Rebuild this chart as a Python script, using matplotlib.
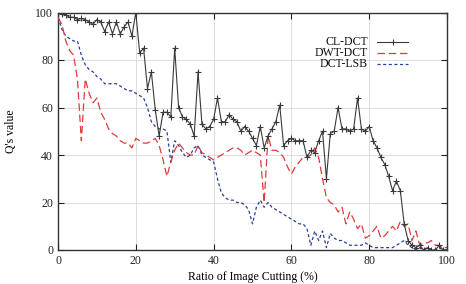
import matplotlib
matplotlib.use("Agg")
import matplotlib.pyplot as plt
import numpy as np

plt.rcParams['font.family'] = ['Liberation Serif', 'DejaVu Serif']

ratio = list(range(0, 101))

cl_dct = [100, 99.5, 99, 98, 98, 97, 97.5, 97, 96, 95,
          97, 96, 92, 96, 91, 96, 91, 94, 96, 90,
          100, 83, 85, 68, 75, 59, 48, 58, 58, 56,
          85, 60, 56, 55, 53, 48, 75, 53, 51, 52,
          55, 64, 54, 54, 57, 55, 54, 50, 52, 50,
          47, 44, 52, 43, 48, 51, 54, 61, 44, 46,
          47, 46, 46, 46, 39, 42, 41, 46, 50, 30,
          49, 50, 60, 51, 51, 50, 51, 64, 51, 50,
          52, 46, 43, 39, 36, 31, 25, 29, 25, 11,
          4, 2, 1, 2, 0, 1, 0, 0, 2, 0, 0]

dwt_dct = [98, 95, 88, 84, 82, 72, 46, 72, 66, 62,
           64, 58, 55, 51, 49, 48, 46, 45, 45, 43,
           47, 46, 45, 45, 46, 47, 44, 38, 31, 37,
           42, 45, 43, 41, 40, 40, 44, 41, 40, 39,
           38, 39, 40, 41, 42, 43, 43, 42, 40, 41,
           42, 41, 40, 20, 48, 42, 42, 41, 39, 35,
           32, 35, 37, 39, 39, 40, 43, 39, 30, 22,
           20, 19, 16, 18, 11, 16, 13, 9, 11, 5,
           6, 8, 10, 5, 6, 8, 10, 8, 12, 10,
           11, 4, 8, 2, 3, 3, 4, 2, 2, 1, 1]

dct_lsb = [98, 93, 90, 89, 88, 88, 82, 78, 76, 75,
           73, 72, 70, 70, 70, 70, 69, 68, 67, 67,
           66, 65, 64, 60, 54, 52, 51, 51, 50, 37,
           46, 44, 41, 39, 40, 43, 44, 40, 39, 38,
           37, 30, 24, 22, 21, 21, 20, 20, 19, 17,
           11, 18, 21, 18, 20, 18, 17, 16, 15, 14,
           13, 12, 11, 11, 9, 2, 8, 4, 8, 1,
           7, 5, 4, 4, 3, 2, 2, 2, 2, 3,
           2, 1, 1, 1, 1, 1, 1, 2, 3, 4,
           2, 1, 0, 1, 0, 1, 0, 0, 1, 0, 0]

series_names = ["CL-DCT", "DWT-DCT", "DCT-LSB"]
x_ticks = [0, 20, 40, 60, 80, 100]
y_ticks = [0, 20, 40, 60, 80, 100]

fig = plt.figure(figsize=(4.66, 2.84), dpi=100)
ax = fig.add_axes([58/466, 1-250/284, 389/466, 237.5/284])

c_cl = '#3a3a3a'
c_dwt = '#e03a3a'
c_lsb = '#2a3f9a'

ax.plot(ratio, cl_dct, color=c_cl, lw=0.8, marker='+', ms=4.5, mew=0.8, zorder=5)
ax.plot(ratio, dwt_dct, color=c_dwt, lw=0.9, dashes=(6, 3), zorder=4)
ax.plot(ratio, dct_lsb, color=c_lsb, lw=0.9, dashes=(2.5, 2), zorder=3)

ax.set_xlim(0, 100)
ax.set_ylim(0, 100)
ax.set_xticks(x_ticks)
ax.set_yticks(y_ticks)
ax.tick_params(direction='in', top=True, right=True, length=4, width=0.8,
               labelsize=8.5, colors='#222222')
for s in ax.spines.values():
    s.set_linewidth(1.0)
    s.set_color('#333333')
ax.grid(True, color='#d8d8d8', lw=0.6)
ax.set_axisbelow(True)

ax.set_xlabel("Ratio of Image Cutting (%)", fontsize=8.5, labelpad=3)
ax.set_ylabel("Q's value", fontsize=8.5, labelpad=13)

# gnuplot-style legend: right-aligned labels followed by line samples
leg_y = [0.876, 0.829, 0.783]
styles = [dict(color=c_cl, lw=0.8, marker='+', ms=4.5, mew=0.8, markevery=[1]),
          dict(color=c_dwt, lw=0.9, dashes=(6, 3)),
          dict(color=c_lsb, lw=0.9, dashes=(2.5, 2))]
for name, yy, st in zip(series_names, leg_y, styles):
    ax.text(0.797, yy, name, transform=ax.transAxes, ha='right', va='center',
            fontsize=8.5, color='#111111')
    ax.plot([0.82, 0.861, 0.90], [yy, yy, yy], transform=ax.transAxes, **st)

fig.savefig("out.png", dpi=100)
